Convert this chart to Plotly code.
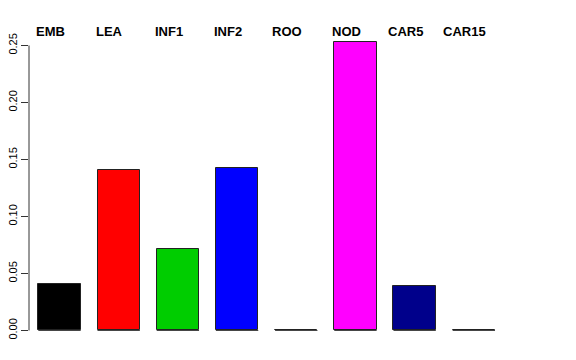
import plotly.graph_objects as go

categories = ["EMB", "LEA", "INF1", "INF2", "ROO", "NOD", "CAR5", "CAR15"]
values = [0.0412, 0.1405, 0.0712, 0.1428, 0.0, 0.2530, 0.0386, 0.0]
colors = ["#000000", "#FF0000", "#00CD00", "#0000FF", "#00FFFF", "#FF00FF", "#00008B", "#BEBEBE"]
y_ticks = [0.00, 0.05, 0.10, 0.15, 0.20, 0.25]
y_ticktext = ["0.00", "0.05", "0.10", "0.15", "0.20", "0.25"]

xpos = list(range(1, len(categories) + 1))
bar_width = 0.716

fig = go.Figure()
fig.add_trace(go.Bar(
    x=xpos, y=values, width=bar_width,
    marker=dict(color=colors, line=dict(color="#222222", width=1)),
    showlegend=False, hoverinfo="skip",
))

# bottom outline of every bar (visible for zero-height bars)
seg_x, seg_y = [], []
for xi in xpos:
    seg_x += [xi - bar_width / 2, xi + bar_width / 2, None]
    seg_y += [0, 0, None]
fig.add_trace(go.Scatter(x=seg_x, y=seg_y, mode="lines",
                         line=dict(color="#444444", width=1),
                         showlegend=False, hoverinfo="skip"))

for xi, name in zip(xpos, categories):
    fig.add_annotation(x=xi - 0.15, y=1.0, xref="x", yref="paper", text="<b>%s</b>" % name,
                       showarrow=False, xanchor="center", yanchor="middle",
                       font=dict(family="Liberation Sans, Arial, sans-serif", size=13, color="black"))

fig.add_shape(type="line", xref="paper", yref="y", x0=0, x1=0, y0=y_ticks[0], y1=y_ticks[-1],
              line=dict(color="#333333", width=1))

fig.update_layout(
    width=576, height=360,
    margin=dict(l=29, r=29, t=31, b=18),
    paper_bgcolor="white", plot_bgcolor="white",
    font=dict(family="Liberation Sans, Arial, sans-serif", size=12, color="black"),
    xaxis=dict(range=[0.4847, 9.236], visible=False, showgrid=False, zeroline=False,
               automargin=False),
    yaxis=dict(range=[-0.0101, 0.2627], tickvals=y_ticks, ticktext=y_ticktext,
               tickangle=-90, ticks="outside", ticklen=7, tickcolor="#333333",
               showgrid=False, zeroline=False, showline=False, automargin=False,
               tickfont=dict(size=11, color="black")),
    bargap=0,
)

fig.write_html("out.html", config={"displayModeBar": False},
               post_script="document.body.style.margin='0';document.body.style.padding='0';")
